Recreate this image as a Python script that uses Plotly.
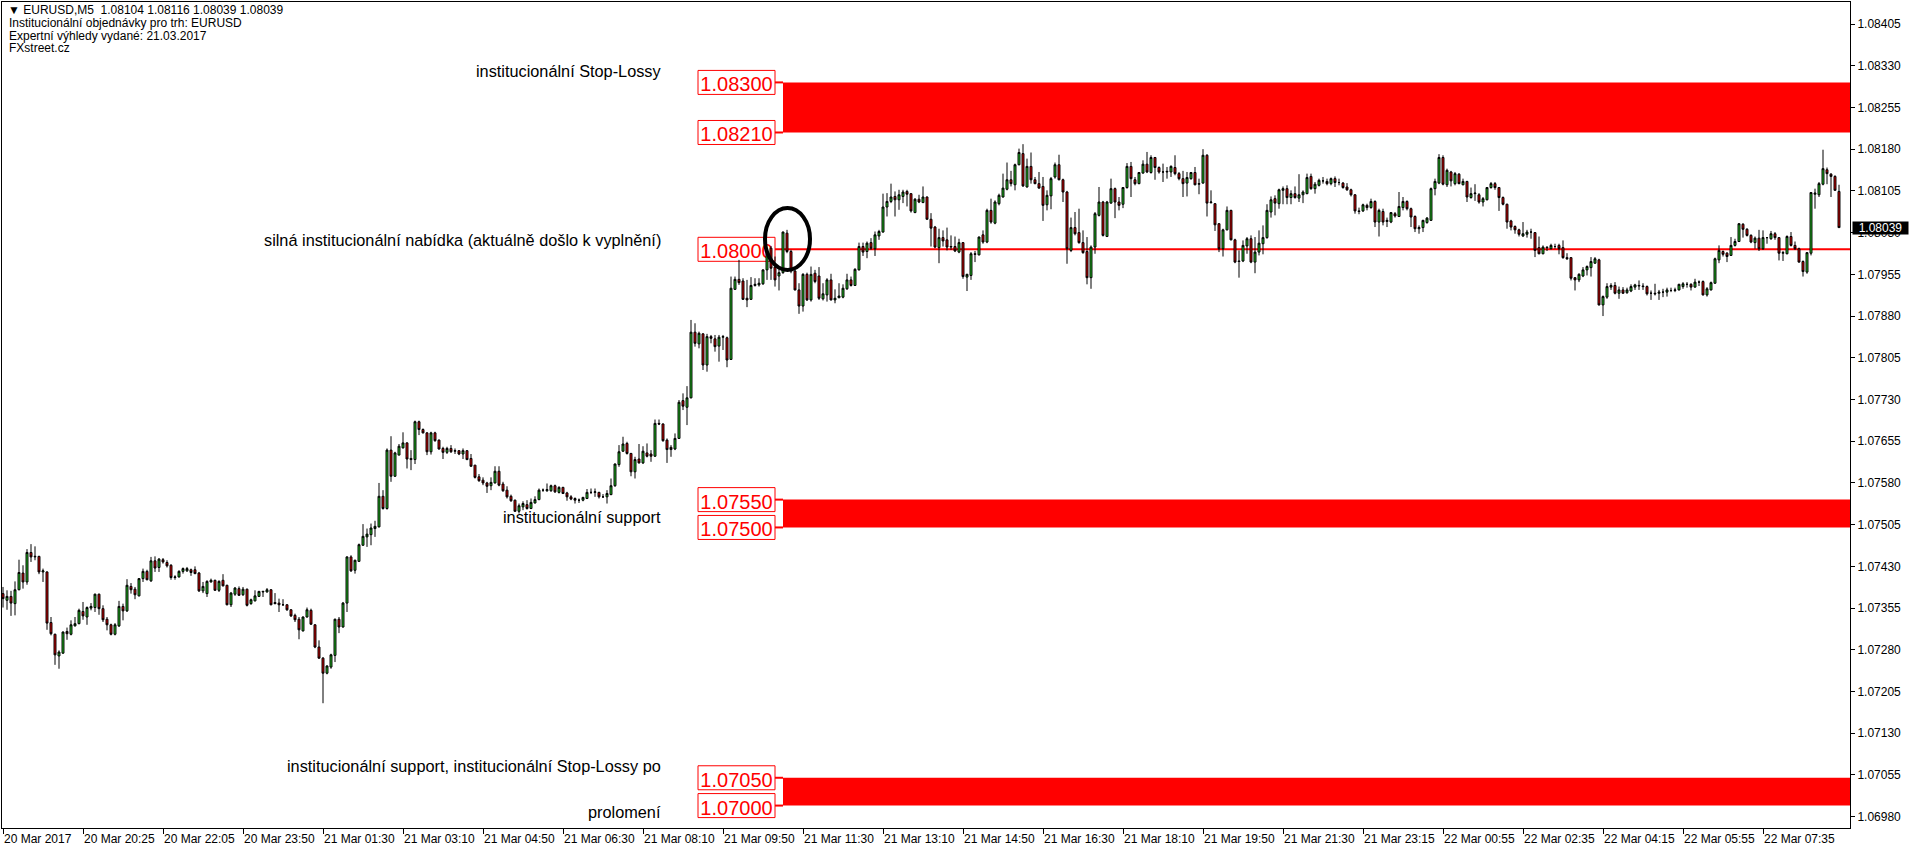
import plotly.graph_objects as go

# ---------------- data (EURUSD M5) ----------------
opens = [
    1.07381, 1.07369, 1.07376, 1.07363, 1.07388, 1.07418, 1.07402, 1.07455, 1.07447, 1.07448,
    1.07420, 1.07420, 1.07329, 1.07308, 1.07269, 1.07274, 1.07313, 1.07308, 1.07323, 1.07327,
    1.07349, 1.07339, 1.07355, 1.07356, 1.07380, 1.07354, 1.07335, 1.07325, 1.07308, 1.07323,
    1.07358, 1.07350, 1.07394, 1.07389, 1.07377, 1.07408, 1.07421, 1.07404, 1.07440, 1.07428,
    1.07442, 1.07437, 1.07432, 1.07410, 1.07411, 1.07421, 1.07422, 1.07424, 1.07424, 1.07418,
    1.07386, 1.07381, 1.07402, 1.07405, 1.07387, 1.07405, 1.07396, 1.07361, 1.07380, 1.07390,
    1.07379, 1.07389, 1.07363, 1.07368, 1.07376, 1.07384, 1.07384, 1.07388, 1.07365, 1.07364,
    1.07361, 1.07361, 1.07352, 1.07342, 1.07335, 1.07314, 1.07339, 1.07351, 1.07325, 1.07285,
    1.07265, 1.07238, 1.07249, 1.07270, 1.07335, 1.07321, 1.07364, 1.07447, 1.07423, 1.07439,
    1.07468, 1.07483, 1.07487, 1.07498, 1.07501, 1.07556, 1.07534, 1.07639, 1.07592, 1.07630,
    1.07643, 1.07652, 1.07624, 1.07622, 1.07690, 1.07676, 1.07670, 1.07636, 1.07670, 1.07657,
    1.07642, 1.07635, 1.07642, 1.07637, 1.07638, 1.07632, 1.07638, 1.07624, 1.07612, 1.07591,
    1.07585, 1.07580, 1.07575, 1.07580, 1.07601, 1.07578, 1.07567, 1.07556, 1.07549, 1.07529,
    1.07537, 1.07541, 1.07534, 1.07544, 1.07550, 1.07567, 1.07566, 1.07566, 1.07575, 1.07563,
    1.07572, 1.07562, 1.07555, 1.07552, 1.07549, 1.07549, 1.07552, 1.07563, 1.07563, 1.07563,
    1.07555, 1.07555, 1.07559, 1.07575, 1.07613, 1.07637, 1.07651, 1.07633, 1.07600, 1.07623,
    1.07616, 1.07634, 1.07632, 1.07628, 1.07687, 1.07686, 1.07657, 1.07644, 1.07641, 1.07660,
    1.07728, 1.07716, 1.07733, 1.07851, 1.07830, 1.07848, 1.07792, 1.07843, 1.07839, 1.07826,
    1.07842, 1.07841, 1.07802, 1.07928, 1.07946, 1.07943, 1.07912, 1.07910, 1.07935, 1.07936,
    1.07938, 1.07963, 1.08002, 1.07968, 1.07952, 1.07958, 1.08029, 1.07996, 1.07961, 1.07927,
    1.07898, 1.07955, 1.07909, 1.07957, 1.07952, 1.07911, 1.07918, 1.07945, 1.07909, 1.07913,
    1.07914, 1.07929, 1.07945, 1.07935, 1.07963, 1.08005, 1.07996, 1.08012, 1.08001, 1.08024,
    1.08031, 1.08076, 1.08086, 1.08095, 1.08089, 1.08095, 1.08104, 1.08100, 1.08066, 1.08090,
    1.08084, 1.08094, 1.08054, 1.08040, 1.08003, 1.08021, 1.08017, 1.08004, 1.08005, 1.07995,
    1.08012, 1.07950, 1.07953, 1.07992, 1.07990, 1.08026, 1.08013, 1.08070, 1.08047, 1.08082,
    1.08094, 1.08108, 1.08125, 1.08116, 1.08152, 1.08172, 1.08112, 1.08149, 1.08125, 1.08118,
    1.08113, 1.08080, 1.08096, 1.08130, 1.08152, 1.08125, 1.08103, 1.07998, 1.08039, 1.08030,
    1.08012, 1.07996, 1.07949, 1.08004, 1.08061, 1.08085, 1.08023, 1.08083, 1.08109, 1.08085,
    1.08081, 1.08111, 1.08149, 1.08125, 1.08118, 1.08137, 1.08153, 1.08138, 1.08165, 1.08147,
    1.08139, 1.08139, 1.08139, 1.08147, 1.08136, 1.08127, 1.08119, 1.08127, 1.08138, 1.08117,
    1.08119, 1.08169, 1.08084, 1.08082, 1.08046, 1.08001, 1.08035, 1.08070, 1.08017, 1.07979,
    1.07979, 1.08006, 1.08019, 1.07977, 1.07995, 1.08010, 1.08021, 1.08067, 1.08091, 1.08082,
    1.08106, 1.08109, 1.08093, 1.08100, 1.08092, 1.08098, 1.08100, 1.08131, 1.08109, 1.08115,
    1.08123, 1.08122, 1.08118, 1.08127, 1.08120, 1.08119, 1.08112, 1.08107, 1.08098, 1.08069,
    1.08069, 1.08079, 1.08075, 1.08086, 1.08049, 1.08068, 1.08050, 1.08049, 1.08064, 1.08059,
    1.08075, 1.08086, 1.08073, 1.08059, 1.08037, 1.08039, 1.08048, 1.08052, 1.08109, 1.08119,
    1.08165, 1.08116, 1.08139, 1.08118, 1.08135, 1.08116, 1.08122, 1.08093, 1.08100, 1.08098,
    1.08085, 1.08089, 1.08111, 1.08118, 1.08111, 1.08093, 1.08081, 1.08051, 1.08041, 1.08035,
    1.08024, 1.08027, 1.08031, 1.08030, 1.08003, 1.07992, 1.08004, 1.08001, 1.08005, 1.08007,
    1.08003, 1.07985, 1.07985, 1.07949, 1.07945, 1.07952, 1.07963, 1.07967, 1.07975, 1.07981,
    1.07900, 1.07914, 1.07932, 1.07935, 1.07921, 1.07927, 1.07922, 1.07925, 1.07932, 1.07934,
    1.07934, 1.07933, 1.07921, 1.07921, 1.07921, 1.07923, 1.07923, 1.07926, 1.07926, 1.07927,
    1.07933, 1.07937, 1.07937, 1.07932, 1.07941, 1.07942, 1.07918, 1.07927, 1.07939, 1.07981,
    1.07996, 1.07993, 1.07989, 1.08007, 1.08014, 1.08045, 1.08036, 1.08025, 1.08012, 1.08020,
    1.08001, 1.08021, 1.08019, 1.08028, 1.08021, 1.07993, 1.07992, 1.08023, 1.08007, 1.08001,
    1.07978, 1.07959, 1.07993, 1.08099, 1.08098, 1.08117, 1.08143, 1.08135, 1.08131, 1.08104,
]

highs = [
    1.07393, 1.07387, 1.07386, 1.07403, 1.07442, 1.07432, 1.07461, 1.07470, 1.07466, 1.07449,
    1.07426, 1.07421, 1.07339, 1.07309, 1.07279, 1.07313, 1.07320, 1.07333, 1.07339, 1.07354,
    1.07366, 1.07358, 1.07364, 1.07381, 1.07381, 1.07360, 1.07339, 1.07327, 1.07328, 1.07368,
    1.07363, 1.07407, 1.07400, 1.07393, 1.07409, 1.07426, 1.07424, 1.07447, 1.07448, 1.07445,
    1.07445, 1.07441, 1.07434, 1.07414, 1.07423, 1.07428, 1.07429, 1.07426, 1.07430, 1.07420,
    1.07402, 1.07405, 1.07408, 1.07406, 1.07405, 1.07416, 1.07397, 1.07384, 1.07393, 1.07394,
    1.07393, 1.07390, 1.07372, 1.07387, 1.07386, 1.07386, 1.07391, 1.07389, 1.07382, 1.07372,
    1.07371, 1.07362, 1.07353, 1.07345, 1.07339, 1.07340, 1.07356, 1.07354, 1.07326, 1.07297,
    1.07267, 1.07252, 1.07273, 1.07336, 1.07339, 1.07366, 1.07448, 1.07450, 1.07442, 1.07471,
    1.07506, 1.07498, 1.07507, 1.07512, 1.07580, 1.07567, 1.07642, 1.07664, 1.07636, 1.07650,
    1.07671, 1.07653, 1.07639, 1.07692, 1.07692, 1.07678, 1.07671, 1.07672, 1.07672, 1.07658,
    1.07645, 1.07645, 1.07648, 1.07642, 1.07639, 1.07642, 1.07639, 1.07632, 1.07612, 1.07596,
    1.07590, 1.07582, 1.07590, 1.07610, 1.07610, 1.07582, 1.07574, 1.07559, 1.07550, 1.07543,
    1.07547, 1.07549, 1.07552, 1.07556, 1.07570, 1.07570, 1.07579, 1.07577, 1.07577, 1.07574,
    1.07573, 1.07564, 1.07558, 1.07554, 1.07552, 1.07555, 1.07569, 1.07570, 1.07570, 1.07564,
    1.07560, 1.07567, 1.07588, 1.07615, 1.07648, 1.07663, 1.07654, 1.07634, 1.07627, 1.07650,
    1.07646, 1.07651, 1.07639, 1.07694, 1.07694, 1.07687, 1.07660, 1.07648, 1.07669, 1.07729,
    1.07741, 1.07754, 1.07873, 1.07867, 1.07852, 1.07849, 1.07848, 1.07846, 1.07846, 1.07846,
    1.07846, 1.07843, 1.07951, 1.07951, 1.07981, 1.07948, 1.07945, 1.07950, 1.07948, 1.07948,
    1.07964, 1.08002, 1.08006, 1.07987, 1.07969, 1.08032, 1.08035, 1.07999, 1.07963, 1.07939,
    1.07957, 1.07958, 1.07969, 1.07963, 1.07968, 1.07939, 1.07948, 1.07956, 1.07928, 1.07939,
    1.07937, 1.07956, 1.07951, 1.07966, 1.08012, 1.08012, 1.08014, 1.08020, 1.08032, 1.08035,
    1.08100, 1.08101, 1.08118, 1.08104, 1.08107, 1.08107, 1.08107, 1.08101, 1.08092, 1.08098,
    1.08113, 1.08095, 1.08065, 1.08042, 1.08037, 1.08034, 1.08039, 1.08025, 1.08023, 1.08019,
    1.08013, 1.07956, 1.07995, 1.07997, 1.08023, 1.08034, 1.08073, 1.08091, 1.08088, 1.08100,
    1.08136, 1.08156, 1.08141, 1.08154, 1.08181, 1.08189, 1.08163, 1.08174, 1.08130, 1.08139,
    1.08130, 1.08106, 1.08130, 1.08156, 1.08170, 1.08127, 1.08105, 1.08057, 1.08067, 1.08073,
    1.08034, 1.08022, 1.08007, 1.08067, 1.08112, 1.08087, 1.08087, 1.08127, 1.08111, 1.08094,
    1.08112, 1.08155, 1.08157, 1.08130, 1.08139, 1.08160, 1.08175, 1.08169, 1.08166, 1.08149,
    1.08154, 1.08148, 1.08151, 1.08169, 1.08139, 1.08141, 1.08139, 1.08139, 1.08148, 1.08127,
    1.08180, 1.08171, 1.08106, 1.08083, 1.08047, 1.08037, 1.08077, 1.08071, 1.08019, 1.07998,
    1.08016, 1.08022, 1.08025, 1.08022, 1.08034, 1.08043, 1.08081, 1.08095, 1.08097, 1.08109,
    1.08113, 1.08115, 1.08106, 1.08113, 1.08135, 1.08106, 1.08136, 1.08136, 1.08121, 1.08127,
    1.08130, 1.08127, 1.08129, 1.08131, 1.08127, 1.08121, 1.08119, 1.08109, 1.08099, 1.08075,
    1.08082, 1.08082, 1.08091, 1.08088, 1.08073, 1.08073, 1.08057, 1.08067, 1.08067, 1.08103,
    1.08094, 1.08088, 1.08075, 1.08061, 1.08043, 1.08053, 1.08058, 1.08111, 1.08127, 1.08171,
    1.08169, 1.08145, 1.08141, 1.08139, 1.08137, 1.08127, 1.08123, 1.08111, 1.08117, 1.08101,
    1.08094, 1.08112, 1.08121, 1.08121, 1.08112, 1.08095, 1.08082, 1.08053, 1.08043, 1.08037,
    1.08049, 1.08035, 1.08037, 1.08031, 1.08023, 1.08007, 1.08005, 1.08010, 1.08010, 1.08010,
    1.08016, 1.07993, 1.07986, 1.07950, 1.07957, 1.07968, 1.07971, 1.07986, 1.07986, 1.07983,
    1.07917, 1.07939, 1.07939, 1.07941, 1.07933, 1.07932, 1.07931, 1.07937, 1.07938, 1.07944,
    1.07939, 1.07935, 1.07926, 1.07938, 1.07927, 1.07929, 1.07931, 1.07931, 1.07931, 1.07938,
    1.07941, 1.07941, 1.07939, 1.07947, 1.07944, 1.07944, 1.07932, 1.07942, 1.07985, 1.08007,
    1.07998, 1.07995, 1.08022, 1.08019, 1.08047, 1.08047, 1.08038, 1.08027, 1.08023, 1.08035,
    1.08034, 1.08022, 1.08033, 1.08031, 1.08022, 1.07997, 1.08025, 1.08031, 1.08014, 1.08003,
    1.07980, 1.07995, 1.08103, 1.08109, 1.08121, 1.08179, 1.08147, 1.08137, 1.08133, 1.08116,
]

lows = [
    1.07356, 1.07352, 1.07341, 1.07342, 1.07387, 1.07390, 1.07397, 1.07438, 1.07441, 1.07416,
    1.07402, 1.07316, 1.07306, 1.07253, 1.07246, 1.07273, 1.07298, 1.07306, 1.07322, 1.07326,
    1.07334, 1.07325, 1.07351, 1.07348, 1.07343, 1.07330, 1.07315, 1.07306, 1.07306, 1.07321,
    1.07333, 1.07348, 1.07381, 1.07371, 1.07376, 1.07402, 1.07405, 1.07402, 1.07420, 1.07420,
    1.07435, 1.07428, 1.07406, 1.07406, 1.07410, 1.07417, 1.07420, 1.07413, 1.07416, 1.07384,
    1.07382, 1.07375, 1.07401, 1.07386, 1.07384, 1.07394, 1.07360, 1.07357, 1.07377, 1.07377,
    1.07377, 1.07358, 1.07361, 1.07367, 1.07375, 1.07375, 1.07383, 1.07360, 1.07362, 1.07348,
    1.07359, 1.07350, 1.07339, 1.07330, 1.07299, 1.07313, 1.07338, 1.07325, 1.07283, 1.07264,
    1.07184, 1.07236, 1.07246, 1.07258, 1.07310, 1.07320, 1.07348, 1.07420, 1.07417, 1.07438,
    1.07467, 1.07465, 1.07468, 1.07483, 1.07500, 1.07532, 1.07532, 1.07582, 1.07591, 1.07630,
    1.07642, 1.07606, 1.07603, 1.07614, 1.07666, 1.07669, 1.07630, 1.07631, 1.07654, 1.07640,
    1.07623, 1.07632, 1.07634, 1.07632, 1.07630, 1.07623, 1.07621, 1.07609, 1.07588, 1.07582,
    1.07576, 1.07562, 1.07567, 1.07579, 1.07574, 1.07564, 1.07552, 1.07546, 1.07528, 1.07525,
    1.07531, 1.07532, 1.07533, 1.07543, 1.07549, 1.07564, 1.07564, 1.07564, 1.07562, 1.07561,
    1.07560, 1.07548, 1.07549, 1.07543, 1.07544, 1.07547, 1.07551, 1.07560, 1.07555, 1.07552,
    1.07553, 1.07543, 1.07558, 1.07573, 1.07609, 1.07636, 1.07631, 1.07592, 1.07588, 1.07615,
    1.07614, 1.07626, 1.07618, 1.07627, 1.07684, 1.07654, 1.07616, 1.07627, 1.07639, 1.07659,
    1.07711, 1.07684, 1.07732, 1.07825, 1.07822, 1.07783, 1.07780, 1.07831, 1.07816, 1.07798,
    1.07819, 1.07788, 1.07801, 1.07927, 1.07936, 1.07909, 1.07896, 1.07909, 1.07933, 1.07933,
    1.07936, 1.07945, 1.07945, 1.07933, 1.07926, 1.07956, 1.07993, 1.07957, 1.07926, 1.07884,
    1.07888, 1.07907, 1.07906, 1.07939, 1.07909, 1.07908, 1.07906, 1.07908, 1.07903, 1.07912,
    1.07912, 1.07927, 1.07933, 1.07934, 1.07962, 1.07988, 1.07984, 1.07999, 1.07988, 1.08017,
    1.08030, 1.08059, 1.08083, 1.08059, 1.08071, 1.08083, 1.08077, 1.08066, 1.08065, 1.08083,
    1.08083, 1.08053, 1.08005, 1.08002, 1.07975, 1.08005, 1.07998, 1.07999, 1.07995, 1.07993,
    1.07947, 1.07925, 1.07945, 1.07977, 1.07989, 1.08010, 1.08011, 1.08046, 1.08045, 1.08079,
    1.08093, 1.08106, 1.08113, 1.08106, 1.08151, 1.08112, 1.08111, 1.08118, 1.08117, 1.08109,
    1.08051, 1.08070, 1.08072, 1.08127, 1.08124, 1.08085, 1.07974, 1.07995, 1.08025, 1.08010,
    1.07992, 1.07937, 1.07929, 1.07992, 1.08059, 1.08023, 1.08022, 1.08082, 1.08056, 1.08070,
    1.08074, 1.08109, 1.08094, 1.08115, 1.08117, 1.08136, 1.08137, 1.08136, 1.08125, 1.08136,
    1.08121, 1.08127, 1.08130, 1.08133, 1.08124, 1.08094, 1.08095, 1.08125, 1.08115, 1.08099,
    1.08118, 1.08059, 1.08082, 1.08033, 1.07995, 1.07987, 1.08034, 1.08016, 1.07975, 1.07949,
    1.07977, 1.07992, 1.07975, 1.07957, 1.07989, 1.07991, 1.08019, 1.08057, 1.08061, 1.08073,
    1.08081, 1.08081, 1.08081, 1.08091, 1.08085, 1.08083, 1.08099, 1.08107, 1.08100, 1.08113,
    1.08118, 1.08115, 1.08115, 1.08112, 1.08115, 1.08109, 1.08105, 1.08095, 1.08064, 1.08063,
    1.08067, 1.08070, 1.08073, 1.08040, 1.08023, 1.08043, 1.08040, 1.08047, 1.08057, 1.08058,
    1.08070, 1.08070, 1.08040, 1.08031, 1.08028, 1.08031, 1.08046, 1.08051, 1.08097, 1.08117,
    1.08115, 1.08112, 1.08113, 1.08115, 1.08117, 1.08115, 1.08085, 1.08091, 1.08087, 1.08082,
    1.08077, 1.08088, 1.08109, 1.08107, 1.08069, 1.08079, 1.08037, 1.08034, 1.08028, 1.08023,
    1.08022, 1.08021, 1.08019, 1.07986, 1.07991, 1.07991, 1.07997, 1.08000, 1.08001, 1.07991,
    1.07983, 1.07981, 1.07944, 1.07926, 1.07941, 1.07950, 1.07953, 1.07951, 1.07974, 1.07899,
    1.07880, 1.07911, 1.07927, 1.07919, 1.07911, 1.07920, 1.07920, 1.07923, 1.07927, 1.07927,
    1.07927, 1.07917, 1.07909, 1.07917, 1.07909, 1.07914, 1.07915, 1.07923, 1.07923, 1.07926,
    1.07929, 1.07931, 1.07926, 1.07931, 1.07934, 1.07917, 1.07915, 1.07926, 1.07938, 1.07975,
    1.07987, 1.07977, 1.07988, 1.08005, 1.08013, 1.08021, 1.08023, 1.08011, 1.08001, 1.07997,
    1.07999, 1.08010, 1.08017, 1.08017, 1.07980, 1.07979, 1.07991, 1.08005, 1.07999, 1.07976,
    1.07951, 1.07956, 1.07989, 1.08073, 1.08094, 1.08115, 1.08117, 1.08094, 1.08105, 1.08039,
]

closes = [
    1.07372, 1.07376, 1.07364, 1.07388, 1.07419, 1.07402, 1.07455, 1.07447, 1.07448, 1.07420,
    1.07422, 1.07328, 1.07309, 1.07271, 1.07276, 1.07312, 1.07309, 1.07325, 1.07327, 1.07351,
    1.07341, 1.07356, 1.07358, 1.07380, 1.07354, 1.07334, 1.07325, 1.07308, 1.07325, 1.07358,
    1.07350, 1.07396, 1.07388, 1.07379, 1.07408, 1.07421, 1.07406, 1.07440, 1.07427, 1.07443,
    1.07438, 1.07431, 1.07410, 1.07411, 1.07421, 1.07426, 1.07426, 1.07419, 1.07417, 1.07386,
    1.07394, 1.07403, 1.07405, 1.07387, 1.07403, 1.07395, 1.07361, 1.07382, 1.07391, 1.07378,
    1.07389, 1.07360, 1.07370, 1.07377, 1.07385, 1.07385, 1.07388, 1.07361, 1.07363, 1.07361,
    1.07361, 1.07352, 1.07341, 1.07334, 1.07316, 1.07339, 1.07352, 1.07326, 1.07285, 1.07265,
    1.07238, 1.07251, 1.07271, 1.07335, 1.07321, 1.07364, 1.07447, 1.07422, 1.07441, 1.07469,
    1.07484, 1.07488, 1.07499, 1.07502, 1.07556, 1.07534, 1.07639, 1.07592, 1.07634, 1.07646,
    1.07652, 1.07623, 1.07622, 1.07690, 1.07676, 1.07670, 1.07636, 1.07670, 1.07656, 1.07641,
    1.07635, 1.07642, 1.07636, 1.07638, 1.07632, 1.07638, 1.07622, 1.07610, 1.07590, 1.07584,
    1.07580, 1.07574, 1.07581, 1.07601, 1.07576, 1.07566, 1.07555, 1.07548, 1.07529, 1.07539,
    1.07543, 1.07534, 1.07545, 1.07550, 1.07567, 1.07567, 1.07568, 1.07575, 1.07564, 1.07572,
    1.07561, 1.07555, 1.07551, 1.07549, 1.07549, 1.07554, 1.07563, 1.07563, 1.07564, 1.07555,
    1.07555, 1.07561, 1.07575, 1.07614, 1.07636, 1.07650, 1.07633, 1.07600, 1.07622, 1.07616,
    1.07637, 1.07628, 1.07628, 1.07687, 1.07686, 1.07656, 1.07640, 1.07640, 1.07660, 1.07725,
    1.07718, 1.07733, 1.07851, 1.07831, 1.07849, 1.07792, 1.07843, 1.07840, 1.07825, 1.07842,
    1.07843, 1.07801, 1.07930, 1.07946, 1.07940, 1.07910, 1.07909, 1.07935, 1.07937, 1.07939,
    1.07963, 1.07993, 1.07966, 1.07945, 1.07958, 1.08031, 1.07996, 1.07961, 1.07927, 1.07898,
    1.07955, 1.07909, 1.07955, 1.07942, 1.07912, 1.07920, 1.07945, 1.07909, 1.07912, 1.07916,
    1.07930, 1.07945, 1.07935, 1.07964, 1.08005, 1.07995, 1.08011, 1.08002, 1.08026, 1.08032,
    1.08076, 1.08086, 1.08094, 1.08089, 1.08098, 1.08103, 1.08099, 1.08069, 1.08090, 1.08085,
    1.08094, 1.08054, 1.08038, 1.08004, 1.08021, 1.08015, 1.08004, 1.08005, 1.07997, 1.08012,
    1.07951, 1.07955, 1.07992, 1.07991, 1.08022, 1.08013, 1.08070, 1.08049, 1.08085, 1.08097,
    1.08110, 1.08125, 1.08118, 1.08152, 1.08174, 1.08114, 1.08149, 1.08125, 1.08118, 1.08110,
    1.08079, 1.08097, 1.08127, 1.08152, 1.08125, 1.08103, 1.08001, 1.08039, 1.08028, 1.08012,
    1.07994, 1.07949, 1.08004, 1.08064, 1.08085, 1.08025, 1.08085, 1.08109, 1.08085, 1.08079,
    1.08111, 1.08149, 1.08127, 1.08118, 1.08138, 1.08153, 1.08139, 1.08165, 1.08147, 1.08139,
    1.08139, 1.08140, 1.08149, 1.08136, 1.08127, 1.08118, 1.08129, 1.08138, 1.08116, 1.08118,
    1.08169, 1.08083, 1.08085, 1.08044, 1.08001, 1.08035, 1.08070, 1.08017, 1.07977, 1.07978,
    1.08007, 1.08019, 1.07977, 1.07995, 1.08011, 1.08021, 1.08070, 1.08089, 1.08083, 1.08107,
    1.08109, 1.08093, 1.08100, 1.08093, 1.08098, 1.08103, 1.08129, 1.08109, 1.08117, 1.08124,
    1.08123, 1.08118, 1.08127, 1.08120, 1.08120, 1.08111, 1.08107, 1.08098, 1.08069, 1.08068,
    1.08080, 1.08075, 1.08086, 1.08049, 1.08070, 1.08049, 1.08052, 1.08066, 1.08060, 1.08077,
    1.08086, 1.08073, 1.08058, 1.08037, 1.08039, 1.08052, 1.08056, 1.08109, 1.08122, 1.08165,
    1.08117, 1.08142, 1.08123, 1.08136, 1.08118, 1.08122, 1.08094, 1.08100, 1.08101, 1.08085,
    1.08091, 1.08111, 1.08118, 1.08111, 1.08093, 1.08081, 1.08049, 1.08040, 1.08035, 1.08027,
    1.08028, 1.08031, 1.08031, 1.07998, 1.07992, 1.08004, 1.08003, 1.08007, 1.08005, 1.08001,
    1.07985, 1.07983, 1.07948, 1.07945, 1.07955, 1.07963, 1.07969, 1.07978, 1.07983, 1.07900,
    1.07915, 1.07933, 1.07935, 1.07921, 1.07927, 1.07921, 1.07927, 1.07933, 1.07936, 1.07935,
    1.07933, 1.07920, 1.07921, 1.07920, 1.07923, 1.07923, 1.07927, 1.07926, 1.07927, 1.07937,
    1.07938, 1.07937, 1.07932, 1.07941, 1.07941, 1.07918, 1.07929, 1.07940, 1.07983, 1.07998,
    1.07991, 1.07987, 1.08007, 1.08014, 1.08046, 1.08036, 1.08025, 1.08013, 1.08020, 1.08001,
    1.08021, 1.08021, 1.08028, 1.08021, 1.07993, 1.07994, 1.08023, 1.08007, 1.08001, 1.07977,
    1.07960, 1.07994, 1.08102, 1.08101, 1.08118, 1.08145, 1.08136, 1.08131, 1.08106, 1.08039,
]

time_tick_bars = [0, 20, 40, 60, 80, 100, 120, 140, 160, 180, 200, 220,
                  240, 260, 280, 300, 320, 340, 360, 380, 400, 420, 440]
time_tick_labels = ["20 Mar 2017", "20 Mar 20:25", "20 Mar 22:05", "20 Mar 23:50",
                    "21 Mar 01:30", "21 Mar 03:10", "21 Mar 04:50", "21 Mar 06:30",
                    "21 Mar 08:10", "21 Mar 09:50", "21 Mar 11:30", "21 Mar 13:10",
                    "21 Mar 14:50", "21 Mar 16:30", "21 Mar 18:10", "21 Mar 19:50",
                    "21 Mar 21:30", "21 Mar 23:15", "22 Mar 00:55", "22 Mar 02:35",
                    "22 Mar 04:15", "22 Mar 05:55", "22 Mar 07:35"]
price_ticks = [1.08405, 1.08330, 1.08255, 1.08180, 1.08105, 1.08030, 1.07955,
               1.07880, 1.07805, 1.07730, 1.07655, 1.07580, 1.07505, 1.07430,
               1.07355, 1.07280, 1.07205, 1.07130, 1.07055, 1.06980]

zone_tops = [1.08300, 1.07550, 1.07050]
zone_bottoms = [1.08210, 1.07500, 1.07000]
fill_level = 1.08000
last_price = 1.08039

header_lines = ["\u25bc EURUSD,M5  1.08104 1.08116 1.08039 1.08039",
                "Institucionální objednávky pro trh: EURUSD",
                "Expertní výhledy vydané: 21.03.2017",
                "FXstreet.cz"]
zone_notes = ["institucionální Stop-Lossy",
              "silná institucionální nabídka (aktuálně došlo k vyplnění)",
              "institucionální support",
              "institucionální support, institucionální Stop-Lossy po",
              "prolomení"]

# ---------------- layout geometry (pixels of the 1910x852 window) ----------------
W, H = 1910, 852
PL, PR, PT, PB = 2, 1850, 2, 828
BAR_PX = 4.0
FIRST_BAR_PX = 3.0
Y_TOP, Y_BOT = 1.0844455, 1.069597
PX_PER_UNIT = (PB - PT) / (Y_TOP - Y_BOT)

def fx(px):
    return (px - PL) / (PR - PL)

def fy(py):
    return 1 - (py - PT) / (PB - PT)

RED = "#FF0000"
GREEN = "#22CC22"
CANDLE_RED = "#E00000"
TXT = "Liberation Sans"

x_idx = list(range(len(closes)))

fig = go.Figure()
fig.add_trace(go.Candlestick(
    x=x_idx, open=opens, high=highs, low=lows, close=closes,
    increasing=dict(line=dict(color="black", width=1), fillcolor=GREEN),
    decreasing=dict(line=dict(color="black", width=1), fillcolor=CANDLE_RED),
    whiskerwidth=0, hoverinfo="skip", showlegend=False,
))

shapes = []
annotations = []

box_half = 12 / PX_PER_UNIT

def label_box(price):
    shapes.append(dict(type="rect", xref="paper", yref="y",
                       x0=fx(698), x1=fx(775), y0=price - box_half, y1=price + box_half,
                       fillcolor="white", line=dict(color=RED, width=1), layer="below",
                       label=dict(text=f"{price:.5f}", font=dict(family=TXT, size=20, color=RED),
                                  textposition="middle center")))

for top, bot in zip(zone_tops, zone_bottoms):
    shapes.append(dict(type="rect", xref="paper", yref="y", x0=fx(783), x1=1,
                       y0=bot, y1=top, fillcolor=RED, line=dict(width=0), layer="below"))
    for p in (top, bot):
        shapes.append(dict(type="line", xref="paper", yref="y", x0=fx(775), x1=fx(783),
                           y0=p, y1=p, line=dict(color=RED, width=2), layer="below"))
        label_box(p)

shapes.append(dict(type="line", xref="paper", yref="y", x0=fx(775), x1=1,
                   y0=fill_level, y1=fill_level, line=dict(color=RED, width=2), layer="below"))
label_box(fill_level)

# ellipse around the fill candle
shapes.append(dict(type="circle", xref="paper", yref="paper",
                   x0=fx(765), x1=fx(810), y0=fy(270), y1=fy(208),
                   line=dict(color="black", width=4), layer="above"))

# header (top-left)
for txt, py, px in zip(header_lines, [9.5, 23, 36, 48.5], [6, 7, 7, 7]):
    annotations.append(dict(text=txt, xref="paper", yref="paper", x=fx(px), y=fy(py),
                            xanchor="left", yanchor="middle", showarrow=False,
                            font=dict(family=TXT, size=12, color="black")))

# zone notes (right-aligned before the price boxes)
for txt, py in zip(zone_notes, [71, 240, 517, 766, 812]):
    annotations.append(dict(text=txt, xref="paper", yref="paper", x=fx(663), y=fy(py),
                            xanchor="right", yanchor="middle", showarrow=False,
                            font=dict(family=TXT, size=16.3, color="black")))

# current price marker on the price scale
annotations.append(dict(text=f"{last_price:.5f}", xref="paper", yref="y", x=fx(1852), y=last_price,
                        xanchor="left", yanchor="middle", showarrow=False,
                        bgcolor="black", borderpad=0, width=55, height=12,
                        font=dict(family=TXT, size=12, color="white")))

fig.update_layout(
    width=W, height=H,
    margin=dict(l=PL, r=W - PR, t=PT, b=H - PB, pad=0),
    paper_bgcolor="white", plot_bgcolor="white",
    shapes=shapes, annotations=annotations,
    showlegend=False,
    xaxis=dict(
        range=[(PL - FIRST_BAR_PX) / BAR_PX, (PR - FIRST_BAR_PX) / BAR_PX],
        rangeslider=dict(visible=False),
        tickmode="array", tickvals=time_tick_bars, ticktext=time_tick_labels,
        ticks="outside", ticklen=5, tickcolor="black", tickwidth=1,
        ticklabelposition="outside right", tickangle=0,
        showgrid=False, zeroline=False,
        showline=True, linecolor="black", linewidth=1, mirror=True,
        tickfont=dict(family=TXT, size=12, color="black"),
        fixedrange=True,
    ),
    yaxis=dict(
        range=[Y_BOT, Y_TOP], side="right",
        tickmode="array", tickvals=price_ticks, ticktext=[f"{v:.5f}" for v in price_ticks],
        ticks="outside", ticklen=4, tickcolor="black", tickwidth=1,
        showgrid=False, zeroline=False,
        showline=True, linecolor="black", linewidth=1, mirror=True,
        tickfont=dict(family=TXT, size=12, color="black"),
        fixedrange=True,
    ),
)

fig.write_html(
    "out.html",
    config={"displayModeBar": False},
    post_script="document.body.style.margin='0px';document.body.style.overflow='hidden';",
)
